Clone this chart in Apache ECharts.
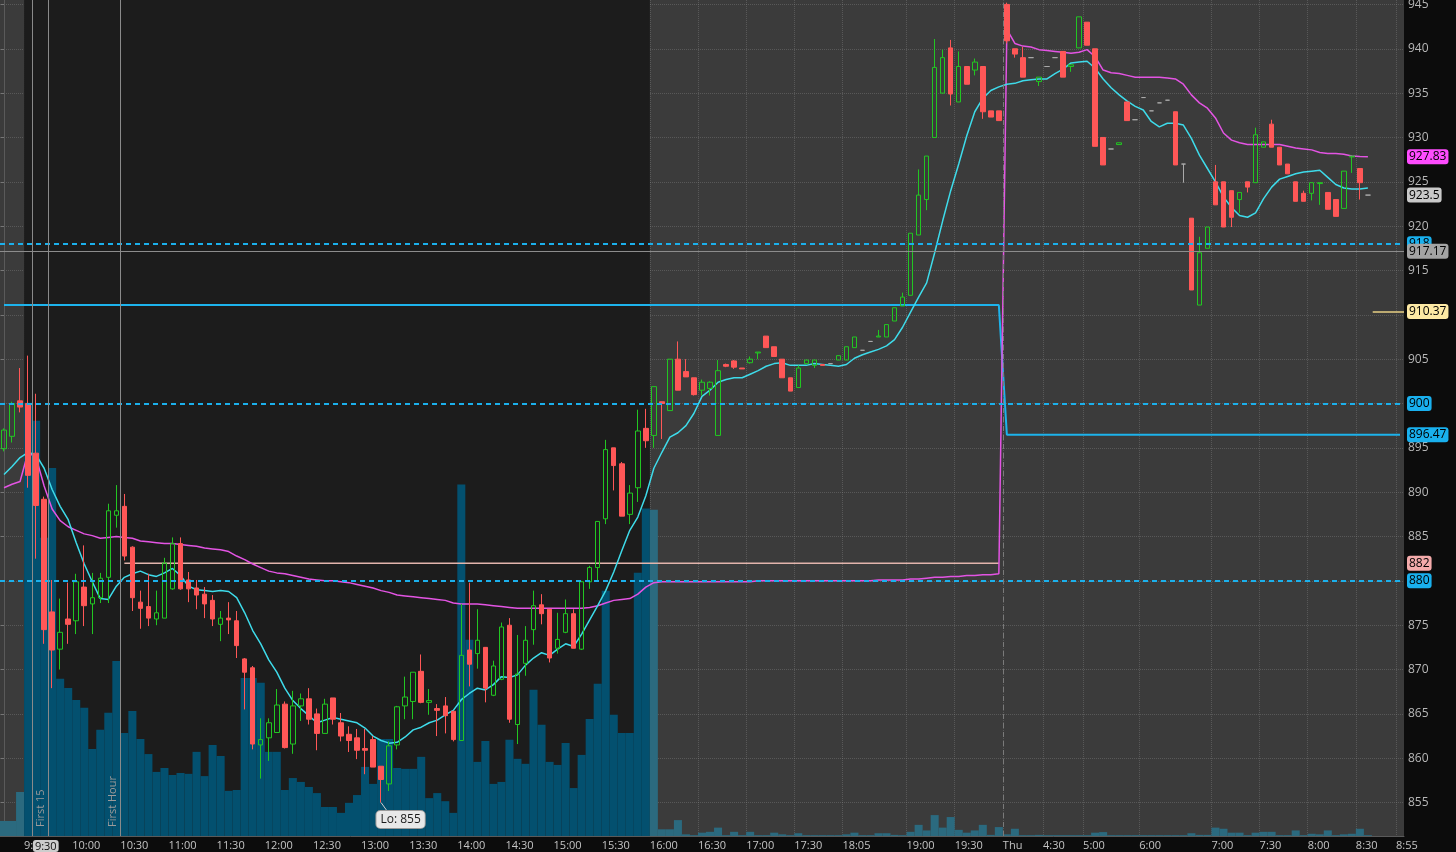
<!DOCTYPE html>
<html>
<head>
<meta charset="utf-8">
<script src="https://cdn.jsdelivr.net/npm/echarts@6/dist/echarts.min.js"></script>
<style>
html,body{margin:0;padding:0;background:#0c0c0c;}
#chart{width:1456px;height:852px;}
</style>
</head>
<body>
<div id="chart"></div>
<script>
// ---------------- DATA ----------------
// 5-minute candles, [open, close, low, high]
const candles = [
[894.9,897.0,894.6,897.2],[896.3,900.0,895.6,900.2],[900.3,899.6,899.0,904.0],[900.0,891.9,890.5,905.4],[894.4,888.5,882.5,901.1],
[889.2,874.5,872.9,889.5],[876.5,872.2,867.9,880.1],[872.3,874.2,870.0,878.0],[875.7,875.1,872.9,879.8],[875.5,879.9,874.0,880.8],
[879.3,877.2,874.9,884.0],[877.4,878.1,874.0,880.9],[878.1,880.3,877.5,880.9],[880.4,887.9,877.5,888.7],[887.4,887.9,886.0,890.8],
[888.4,882.8,882.3,889.8],[883.8,878.1,876.6,883.9],[877.6,876.9,874.6,878.9],[877.1,875.8,874.9,880.8],[875.7,876.4,875.0,878.9],
[875.8,882.0,875.8,882.6],[879.1,884.2,879.0,884.9],[884.2,879.1,879.0,884.9],[880.1,879.1,877.6,881.0],[879.2,878.4,876.8,880.1],
[878.5,877.4,875.8,879.3],[877.8,875.7,874.9,878.4],[875.1,875.8,873.2,876.6],[875.8,875.6,874.0,877.6],[875.5,872.7,871.3,876.6],
[871.2,869.7,865.5,871.3],[870.2,861.6,861.0,870.4],[861.5,862.1,857.7,864.5],[862.3,864.0,859.7,864.5],[862.9,866.0,862.9,867.8],
[866.1,861.2,861.1,866.4],[861.6,865.9,860.5,867.6],[865.9,866.7,864.2,867.3],[866.7,864.4,863.8,867.9],[865.0,862.8,860.9,865.6],
[862.8,866.1,862.8,866.7],[866.8,864.4,863.8,866.8],[864.0,862.5,861.9,865.1],[862.7,862.0,860.7,863.6],[862.3,860.9,859.9,863.3],
[861.1,860.9,858.2,863.3],[862.1,859.0,859.0,862.5],[859.1,857.6,855.0,859.1],[857.1,861.4,856.3,861.9],[861.5,865.8,861.0,865.9],
[865.9,866.9,864.4,869.2],[866.4,869.7,864.4,869.7],[869.8,866.3,866.2,871.7],[866.3,866.5,864.9,867.8],[865.6,865.4,862.5,866.1],
[865.9,864.8,862.8,866.9],[865.3,862.1,861.9,865.3],[862.0,871.6,862.0,877.4],[872.2,870.6,868.1,879.8],[871.8,873.3,870.1,876.8],
[872.5,867.9,866.3,872.5],[867.1,870.4,867.0,871.0],[868.9,874.8,868.8,875.3],[875.0,864.4,864.0,875.8],[863.8,869.5,861.6,873.9],
[870.7,873.3,869.3,874.9],[874.5,877.2,872.8,878.9],[877.3,876.3,875.1,878.5],[876.8,871.3,870.8,876.8],[872.4,873.4,871.8,876.4],
[874.2,876.3,874.1,877.9],[876.3,872.4,872.4,876.8],[872.3,879.9,872.2,880.0],[879.9,881.5,879.1,881.7],[881.5,886.7,880.0,886.7],
[887.0,894.8,886.4,895.9],[895.0,893.0,890.2,895.0],[893.2,887.3,887.3,893.4],[887.5,889.9,886.4,890.8],[890.5,896.9,888.9,899.3],
[897.2,895.8,895.0,899.4],[896.4,901.9,895.0,901.9],[900.2,900.0,896.0,900.2],[899.2,905.0,899.2,905.0],[905.0,901.5,901.5,907.0],
[903.6,903.0,903.0,905.0],[902.9,901.0,900.9,902.9],[901.5,902.4,900.9,902.7],[901.7,902.4,900.9,902.5],[896.4,903.7,896.4,904.9],
[904.4,904.2,904.1,904.5],[904.8,904.1,903.9,904.9],[904.0,903.9,903.9,904.0],[904.6,905.0,904.5,905.3],[905.7,905.8,905.0,905.8],
[907.6,906.3,906.3,907.6],[906.4,905.3,905.3,906.4],[905.0,902.9,902.9,905.0],[902.9,901.4,901.4,902.9],[901.8,904.0,901.8,904.3],
[904.5,904.9,904.5,904.9],[904.3,904.9,904.0,904.9],[904.4,904.3,904.3,904.4],[904.5,904.5,904.5,904.5],[904.9,905.4,904.9,905.4],
[904.9,906.4,904.9,906.4],[906.3,907.5,906.3,907.5],[906.0,906.0,906.0,906.0],[907.0,907.0,907.0,907.0],[907.5,907.6,907.5,908.3],
[907.5,908.9,907.5,908.9],[909.3,910.8,909.3,910.8],[911.0,912.0,911.0,912.5],[912.2,919.2,912.2,919.2],[919.0,923.5,919.0,926.4],
[923.0,927.9,921.8,927.9],[930.0,937.9,930.0,941.1],[935.0,939.0,935.0,939.9],[940.1,934.9,933.6,941.0],[934.0,938.0,934.0,939.7],
[938.0,936.0,936.0,938.0],[937.6,938.5,937.0,938.9],[938.0,932.9,932.1,938.0],[933.0,932.3,932.3,933.0],[933.0,931.9,931.9,933.0],
[945.0,940.9,940.6,945.2],[940.0,939.4,939.0,940.0],[939.0,936.8,936.8,940.2],[939.0,939.0,939.0,939.0],[936.3,936.8,935.8,936.8],
[938.0,938.0,938.0,938.0],[939.0,939.0,939.0,939.0],[939.7,936.8,936.8,939.7],[938.0,938.2,937.4,938.2],[940.1,943.6,940.1,943.6],
[943.0,940.4,940.4,943.0],[940.0,929.0,929.0,940.0],[930.0,926.9,926.9,930.0],[928.7,928.7,928.7,928.7],[929.2,929.4,929.2,929.4],
[934.0,931.9,931.9,934.0],[932.0,932.0,932.0,932.0],[934.5,934.5,934.5,934.5],[933.0,933.0,933.0,933.0],[933.9,933.9,933.9,933.9],
[934.2,934.2,934.2,934.2],[932.9,926.9,926.9,932.9],[927.0,927.0,924.9,927.0],[920.9,912.8,912.8,920.9],[911.1,917.0,911.1,918.8],
[917.5,919.9,917.5,919.9],[925.0,922.4,922.4,926.9],[925.0,919.9,919.9,925.0],[924.0,921.0,919.9,924.0],[923.0,923.8,921.5,923.8],
[925.0,924.4,923.8,925.0],[924.9,930.3,924.9,931.1],[928.9,929.5,928.9,929.5],[931.5,928.9,928.9,932.0],[928.9,926.9,926.9,928.9],
[927.0,925.9,925.9,927.0],[925.0,922.8,922.8,925.0],[923.7,922.8,922.8,924.0],[923.7,924.9,922.9,924.9],[924.8,924.9,922.4,924.9],
[923.8,921.9,921.9,923.8],[923.0,921.1,921.1,923.0],[922.0,926.2,922.0,926.2],[927.8,927.9,926.0,927.9],[926.5,924.9,923.0,926.5],
[923.5,923.5,923.5,923.5]
];

// volume per candle (thousand shares)
const volume = [
5.4,5.4,15.8,155.5,149,107,132.1,56.4,53.1,48.8,
46,31.2,38.1,44.2,62.8,37,44.9,34.8,29.4,23,
24.4,21.9,22.6,22.3,30.2,21.5,32.7,28.7,16.2,16.5,
56.7,56.7,55,30.2,30.2,16.5,20.8,19.4,17.6,15.4,
10.4,10.4,8.3,11.9,14.7,24.8,18.7,34.8,34.8,24.4,
24.1,24.1,28.4,13.6,15.4,12.5,8.3,126.1,70.4,26.6,
34.1,18.7,19.4,34.5,27.7,25.9,52.5,39.9,26.6,25.5,
33.4,17.2,29.1,42,54.6,88,43.5,37,37,94.5,
117.5,117.1,2.4,2.4,5.7,0.6,0.3,1.2,1.5,3,
0.3,1.5,0.3,1.5,0.3,0.3,1.2,0.6,0.3,1,
0.3,0.3,0.3,0.3,0.3,0.6,1.2,0.3,0.3,1,
1,0.4,0.3,1.5,4,2,7.5,3,6.8,2.2,
1.2,2,4,0.4,3.2,0.6,2.6,0.3,0.3,0.4,
0.3,0.3,0.3,0.3,0.3,0.3,1.2,1.4,0.3,0.3,
0.3,0.3,0.3,0.3,0.3,0.3,0.3,0.3,1,0.4,
0.4,3,2.6,1.2,1.2,0.3,1.2,1.5,1.5,0.3,
0.3,2,0.3,0.8,0.6,2,0.3,0.6,0.8,2.6,
0.3
];

// fast moving average (cyan)
const maFast = [
892.0,892.9,893.9,894.5,894.2,892.7,890.3,888.4,886.9,884.3,
881.9,879.9,878.0,877.9,879.4,880.4,880.8,881.1,880.7,880.5,
880.9,881.4,880.6,879.4,879.0,878.9,878.8,878.9,878.8,878.1,
876.4,874.4,872.9,871.1,869.7,867.9,866.5,865.6,864.8,864.0,
864.3,864.6,864.4,864.2,864.0,863.4,862.5,862.0,861.7,861.8,
862.4,863.2,863.5,864.0,864.3,864.9,865.4,866.6,867.3,867.9,
867.7,868.3,869.2,869.1,869.4,870.5,871.3,871.9,871.6,872.3,
872.9,872.6,874.0,875.6,877.2,878.9,881.0,883.4,885.7,887.2,
889.6,892.7,894.5,896.2,896.7,897.5,898.9,900.8,901.5,902.4,
902.7,902.9,902.9,903.3,903.7,904.2,904.5,904.6,904.3,904.3,
904.3,904.5,904.4,904.3,904.2,904.4,905.1,905.5,905.8,906.1,
906.5,907.2,908.6,910.3,912.0,913.6,917.0,920.6,924.0,927.0,
930.2,932.9,934.4,935.3,935.7,936.0,936.1,936.4,936.5,936.6,
936.6,937.2,937.7,938.4,938.5,938.6,937.8,936.6,935.6,934.8,
934.1,933.5,933.1,931.8,931.2,931.6,931.6,931.4,929.9,928.0,
926.5,925.0,923.3,922.1,921.2,921.0,921.5,923.1,924.4,925.3,
925.6,925.9,926.1,926.2,926.3,925.5,924.7,924.3,924.2,924.2,
924.3
];

// VWAP (magenta)
const vwap = [
890.5,890.9,891.2,894.5,893.9,890.7,888.1,886.8,886.1,885.7,
885.3,885.1,884.8,884.9,885.0,884.9,884.8,884.5,884.4,884.3,
884.2,884.2,884.1,884.0,883.9,883.7,883.6,883.5,883.3,882.8,
882.4,881.9,881.5,881.1,880.9,880.8,880.6,880.4,880.2,880.1,
880.0,880.0,879.9,879.8,879.6,879.4,879.2,878.9,878.7,878.4,
878.3,878.2,878.1,878.0,877.9,877.8,877.5,877.4,877.4,877.4,
877.3,877.2,877.1,877.0,876.9,876.9,876.9,876.9,876.9,876.9,
876.9,876.9,876.9,877.0,877.2,877.5,877.8,877.9,878.0,878.5,
879.3,879.8,879.9,879.9,879.9,879.9,879.9,879.9,879.9,879.9,
879.9,879.9,879.9,879.9,880.0,880.0,880.0,880.0,880.0,880.0,
880.0,880.0,880.0,880.0,880.0,880.0,880.0,880.0,880.0,880.1,
880.1,880.1,880.1,880.2,880.2,880.3,880.4,880.4,880.5,880.5,
880.6,880.6,880.7,880.7,880.8,942.2,940.6,940.3,940.2,939.9,
939.8,939.7,939.6,939.5,939.6,939.9,939.1,937.6,937.3,937.2,
937.0,936.8,936.8,936.8,936.8,936.7,936.6,936.0,934.8,933.9,
933.3,932.2,930.5,929.7,929.4,929.2,929.2,929.2,929.2,929.2,
929.0,928.8,928.7,928.6,928.3,928.2,928.2,928.1,927.9,927.85,
927.83
];

// step level (cyan solid) by candle slot
const rangeLevels = [{from: 0, to: 124, value: 911.1}, {from: 125, to: 174, value: 896.47}];
// opening range level (pink)
const openRangeLevel = {from: 15, to: 124, value: 882};
// dashed price levels
const dashedLevels = [918, 900, 880];
const refLevel = 917.17;      // thin gray line
const pivotLevel = 910.37;    // short yellow line
const lowMark = {slot: 47, value: 855, text: 'Lo: 855'};

// x axis: time labels and the candle slot where each time starts
const tickLabels = ['9:30','10:00','10:30','11:00','11:30','12:00','12:30','13:00','13:30','14:00','14:30','15:00','15:30','16:00','16:30','17:00','17:30','18:05','19:00','19:30','Thu','4:30','5:00','6:00','7:00','7:30','8:00','8:30','8:55'];
const tickSlots  = [3,9,15,21,27,33,39,45,51,57,63,69,75,81,87,93,99,105,113,119,125,130,135,142,151,157,163,169,174];
const cursorTime = {label: '9:30', at: 3.6};
const yTicks = [855,860,865,870,875,880,885,890,895,900,905,910,915,920,925,930,935,940,945];

// sessions (candle slots)
const regularSession = {first: 3, last: 80};
const markerLines = {first15: 5.5, firstHour: 14.5, open: 3.5, daySplit: 124.5};
const SLOTS = 175;

// ---------------- BUILD ----------------
const FONT = "'Open Sans', 'DejaVu Sans', sans-serif";
const categories = Array.from({length: SLOTS}, (_, i) => 'slot' + i);
const rangeLine = categories.map((_, i) => {
  const s = rangeLevels.find(r => i >= r.from && i <= r.to);
  return s ? s.value : '-';
});
const pinkLine = categories.map((_, i) => (i >= openRangeLevel.from && i <= openRangeLevel.to) ? openRangeLevel.value : '-');

const tickVals = tickSlots.map(s => s - 0.5);
const labelMap = {};
tickVals.forEach((v, i) => { labelMap[v.toFixed(2)] = tickLabels[i]; });
labelMap[cursorTime.at.toFixed(2)] = '{cur|' + cursorTime.label + '}';

const boxLabel = (text, bg, color) => ({
  show: true, position: 'end', distance: 3, formatter: text,
  backgroundColor: bg, color: color || '#000', padding: [2, 2, 1, 2], borderRadius: 3,
  fontSize: 12, fontFamily: FONT, lineHeight: 12
});
const noLine = {color: 'rgba(0,0,0,0)', width: 0};

const lastClose = candles[candles.length - 1][1];
const lastVwap = vwap[vwap.length - 1];
const lastRange = rangeLevels[rangeLevels.length - 1].value;

const hLines = [];
dashedLevels.forEach(v => hLines.push({
  yAxis: v, lineStyle: {color: '#1bb0ec', width: 2, type: [5, 4]},
  label: boxLabel(String(v), '#19b0ee')
}));
hLines.push({yAxis: refLevel, lineStyle: {color: '#8c8c8c', width: 1, type: 'solid'}, label: boxLabel(refLevel.toFixed(2), '#a3a3a3')});
hLines.push({yAxis: lastRange, lineStyle: noLine, label: boxLabel(String(lastRange), '#19b0ee')});
hLines.push({yAxis: openRangeLevel.value, lineStyle: noLine, label: boxLabel(String(openRangeLevel.value), '#f4abab')});
hLines.push({yAxis: lastClose, lineStyle: noLine, label: boxLabel(String(lastClose), '#c9c9c9')});
hLines.push({yAxis: lastVwap, lineStyle: noLine, label: boxLabel(lastVwap.toFixed(2), '#ff4cff')});
hLines.push([
  {coord: [170.6, pivotLevel], lineStyle: {color: '#e8d185', width: 1.5, type: 'solid'}, label: boxLabel(pivotLevel.toFixed(2), '#fde9a4')},
  {coord: [SLOTS - 0.5, pivotLevel]}
]);
const vLabel = (text) => ({show: true, formatter: text, position: 'insideStartTop', distance: [9, 2], color: '#9a9a9a', fontSize: 11, fontFamily: FONT});
const vLines = [
  {xAxis: markerLines.open, lineStyle: {color: '#8a8a8a', width: 1, type: 'solid'}, label: {show: false}},
  {xAxis: markerLines.first15, lineStyle: {color: '#8a8a8a', width: 1, type: 'solid'}, label: vLabel('First 15')},
  {xAxis: markerLines.firstHour, lineStyle: {color: '#8a8a8a', width: 1, type: 'solid'}, label: vLabel('First Hour')},
  {xAxis: markerLines.daySplit, lineStyle: {color: '#7a7a7a', width: 1, type: [5, 4]}, label: {show: false}},
  [{coord: [lowMark.slot, lowMark.value], lineStyle: {color: '#cfcfcf', width: 1, type: 'solid'}, label: {show: false}},
   {coord: [lowMark.slot + 0.75, lowMark.value - 0.95]}]
];

const chart = echarts.init(document.getElementById('chart'), null, {renderer: 'canvas'});
chart.setOption({
  animation: false,
  backgroundColor: '#0c0c0c',
  textStyle: {fontFamily: FONT},
  grid: {left: 0, right: 52, top: 0, bottom: 16, show: true, backgroundColor: '#3b3b3b', borderWidth: 0, outerBoundsMode: 'none', containLabel: false},
  xAxis: [
    {type: 'category', data: categories, boundaryGap: true, show: false},
    {
      type: 'value', min: -0.5, max: SLOTS - 0.5, position: 'bottom',
      axisLine: {show: true, onZero: false, lineStyle: {color: '#5a5a5a'}},
      axisTick: {show: false, customValues: tickVals},
      axisLabel: {
        customValues: tickVals.concat([cursorTime.at]),
        hideOverlap: false,
        formatter: v => labelMap[Number(v).toFixed(2)] || '',
        align: 'left', color: '#c4c4c4', fontSize: 11, margin: 4, fontFamily: FONT, lineHeight: 12,
        rich: {cur: {backgroundColor: '#cdcdcd', color: '#111', borderRadius: 3, padding: [1, 2, 0, 2], fontSize: 11, lineHeight: 12, fontFamily: FONT}}
      },
      splitLine: {show: true, lineStyle: {color: 'rgba(150,150,150,0.32)', type: 'dotted', width: 1}}
    }
  ],
  yAxis: [
    {
      type: 'value', position: 'right', min: 851.23, max: 945.5, scale: true,
      axisLine: {show: true, lineStyle: {color: '#5a5a5a'}},
      axisTick: {show: true, inside: true, length: 3, lineStyle: {color: '#777'}, customValues: yTicks},
      axisLabel: {customValues: yTicks, color: '#b8b8b8', fontSize: 12, margin: 4, fontFamily: FONT, hideOverlap: false},
      splitLine: {show: true, lineStyle: {color: 'rgba(150,150,150,0.32)', type: 'dotted', width: 1}}
    },
    {type: 'value', min: 0, max: 300, show: false, splitLine: {show: false}}
  ],
  series: [
    { // session background
      type: 'line', xAxisIndex: 1, yAxisIndex: 0, data: [[0, 900]], symbol: 'none', silent: true,
      lineStyle: {opacity: 0}, z: 1,
      markArea: {silent: true, itemStyle: {color: '#1c1c1c'},
        data: [[{xAxis: regularSession.first - 0.5}, {xAxis: regularSession.last + 0.5}]]}
    },
    { // volume
      type: 'bar', xAxisIndex: 0, yAxisIndex: 1, data: volume, barCategoryGap: '0%', silent: true, z: 2,
      itemStyle: {color: p => (p.dataIndex >= regularSession.first && p.dataIndex <= regularSession.last) ? '#03506f' : '#2b6a7f'}
    },
    {type: 'line', xAxisIndex: 0, yAxisIndex: 0, data: rangeLine, symbol: 'none', silent: true, z: 3,
      lineStyle: {color: '#1db3ec', width: 2}},
    {type: 'line', xAxisIndex: 0, yAxisIndex: 0, data: pinkLine, symbol: 'none', silent: true, z: 3,
      lineStyle: {color: '#e2b4ac', width: 1.5}},
    {type: 'line', xAxisIndex: 0, yAxisIndex: 0, data: vwap, symbol: 'none', silent: true, z: 3,
      lineStyle: {color: '#e354e3', width: 1.5}},
    {type: 'line', xAxisIndex: 0, yAxisIndex: 0, data: maFast, symbol: 'none', silent: true, z: 3,
      lineStyle: {color: '#3edbea', width: 1.5}},
    {
      type: 'candlestick', xAxisIndex: 0, yAxisIndex: 0, data: candles, barWidth: 5, silent: true, z: 4,
      itemStyle: {color: 'rgba(0,0,0,0)', color0: '#ff5757', borderColor: '#22c622', borderColor0: '#ff5757',
        borderColorDoji: '#a9a9a9', borderWidth: 1}
    },
    { // annotations
      type: 'line', xAxisIndex: 1, yAxisIndex: 0, data: [[0, 900]], symbol: 'none', silent: true,
      lineStyle: {opacity: 0}, z: 5,
      markLine: {silent: true, symbol: ['none', 'none'], animation: false, data: hLines.concat(vLines)},
      markPoint: {silent: true, animation: false, data: [{
        coord: [lowMark.slot, lowMark.value], symbol: 'rect', symbolSize: 1, itemStyle: {color: 'rgba(0,0,0,0)'},
        label: {show: true, position: 'inside', offset: [19.5, 17], formatter: lowMark.text,
          backgroundColor: '#e8e8e8', borderColor: '#9a9a9a', borderWidth: 1, borderRadius: 4,
          padding: [3, 4, 2, 4], color: '#1a1a1a', fontSize: 12, fontFamily: FONT}
      }]}
    }
  ]
});
</script>
</body>
</html>
